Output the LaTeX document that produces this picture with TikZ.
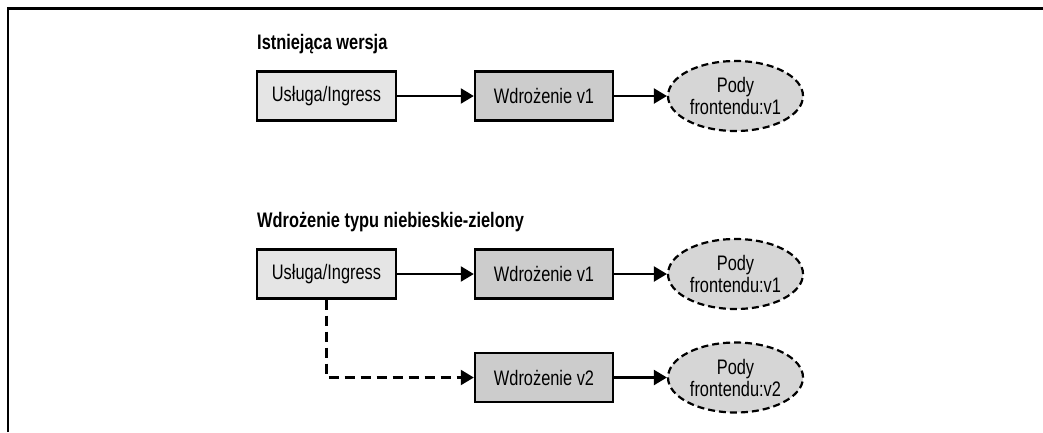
\documentclass[tikz,border=0pt]{standalone}
\usepackage{fontspec}
\setmainfont[FakeStretch=0.78]{Liberation Sans}
\usepackage{tikz}
\usetikzlibrary{arrows.meta,shapes.geometric}

\tikzset{
  svcbox/.style={draw,line width=2.4pt,fill=black!10,minimum width=139pt,minimum height=49pt,inner sep=0pt},
  deploybox/.style={draw,line width=2.4pt,fill=black!20,minimum width=138pt,minimum height=49pt,inner sep=0pt},
  podnode/.style={draw,ellipse,line width=2.2pt,dash pattern=on 7pt off 4pt,fill=black!16,minimum width=135pt,minimum height=70pt,inner sep=0pt,align=center},
  flow/.style={line width=2.2pt,-{Triangle[length=13pt,width=15pt]}},
  heading/.style={anchor=base west,inner sep=0pt,font=\fontsize{21}{22}\selectfont\bfseries}
}

\begin{document}
\begin{tikzpicture}[x=1pt,y=-1pt,font=\fontsize{21}{22}\selectfont]
  \useasboundingbox (0,0) rectangle (1043,432);
  % frame
  \draw[line width=2.5pt] (8,432) -- (8,8.5) -- (1043,8.5);

  % Existing version
  \node[heading] (title1) at (257,49) {Istniejąca wersja};
  \node[svcbox] (svc1) at (326.5,96) {Usługa/Ingress};
  \node[deploybox] (dep1) at (544,96) {Wdrożenie v1};
  \node[podnode] (pod1) at (735.5,96) {Pody\\frontendu:v1};
  \draw[flow] (svc1) -- (dep1);
  \draw[flow] (dep1) -- (pod1);

  % Blue-green deployment
  \node[heading] (title2) at (257,227) {Wdrożenie typu niebieskie-zielony};
  \node[svcbox] (svc2) at (326.5,274) {Usługa/Ingress};
  \node[deploybox] (dep2a) at (544,274) {Wdrożenie v1};
  \node[podnode] (pod2a) at (735.5,274) {Pody\\frontendu:v1};
  \node[deploybox] (dep2b) at (544,377.5) {Wdrożenie v2};
  \node[podnode] (pod2b) at (735.5,377.5) {Pody\\frontendu:v2};
  \draw[flow] (svc2) -- (dep2a);
  \draw[flow] (dep2a) -- (pod2a);
  \draw[flow] (dep2b) -- (pod2b);
  \draw[flow,dash pattern=on 10pt off 6pt] (svc2.south) |- (dep2b.west);
\end{tikzpicture}
\end{document}
